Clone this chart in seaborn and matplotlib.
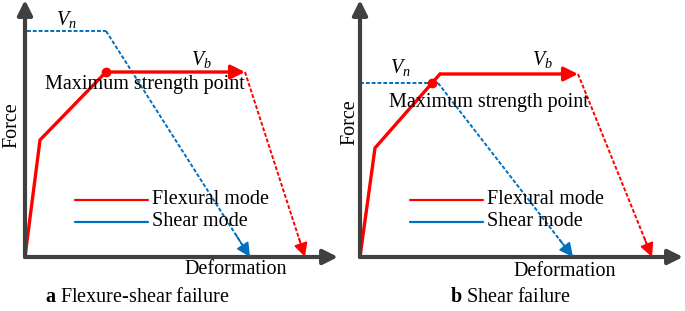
import seaborn as sns
import matplotlib.pyplot as plt

sns.set_style('white')
plt.rcParams['font.family'] = ['Liberation Serif', 'DejaVu Serif']
plt.rcParams['text.color'] = 'black'
plt.rcParams['mathtext.fontset'] = 'custom'
plt.rcParams['mathtext.rm'] = 'Liberation Serif'
plt.rcParams['mathtext.it'] = 'Liberation Serif:italic'
plt.rcParams['mathtext.bf'] = 'Liberation Serif:bold'

RED = '#ff0000'
BLUE = '#0070c0'
AXC = '#404040'
FS = 14.5

# schematic data (deformation, force) per panel
panels = [
    dict(tag='a', caption='Flexure-shear failure',
         flex_x=[0, 15, 81], flex_y=[0, 117, 185],
         peak=(81, 185), plateau_end=(220, 185), flex_end=(280, 0),
         shear_x=[2, 81], shear_y=[226, 226], shear_end=(225, 0),
         dot=(81, 185), xlim=(-25, 315), x_tip=313,
         vn=(41, 237), vb=(176, 197), maxpt=(120, 172),
         deform=(211, -13), force=(-13, 132), cap=(20, -40)),
    dict(tag='b', caption='Shear failure',
         flex_x=[0, 15, 80], flex_y=[0, 109, 183],
         peak=(80, 183), plateau_end=(218, 183), flex_end=(292, 0),
         shear_x=[0, 78], shear_y=[174, 174], shear_end=(213, 0),
         dot=(72, 174), xlim=(-20, 325), x_tip=323,
         vn=(40, 189), vb=(182, 197), maxpt=(129, 154),
         deform=(205, -15), force=(-10, 135), cap=(90, -41)),
]
legend_x = [50, 123]
legend_y = [57, 35]
legend_labels = ['Flexural mode', 'Shear mode']

fig = plt.figure(figsize=(6.85, 3.11), dpi=100)
positions = [[0, 0, 340 / 685, 1], [340 / 685, 0, 345 / 685, 1]]


def arrow(ax, start, end, color, lw, ms, ls='-'):
    ax.annotate('', xy=end, xytext=start,
                arrowprops=dict(arrowstyle='-|>', color=color, lw=lw,
                                mutation_scale=ms, linestyle=ls,
                                shrinkA=0, shrinkB=0))


def head(ax, start, end, color, ms):
    # short solid segment at the end of a dashed line to carry the head
    fx = start[0] + (end[0] - start[0]) * 0.9
    fy = start[1] + (end[1] - start[1]) * 0.9
    arrow(ax, (fx, fy), end, color, 1.2, ms)


for p, pos in zip(panels, positions):
    ax = fig.add_axes(pos)
    ax.set_xlim(*p['xlim'])
    ax.set_ylim(-54, 257)
    ax.axis('off')

    # axes arrows
    arrow(ax, (0, 0), (p['x_tip'], 0), AXC, 3, 22)
    arrow(ax, (0, 0), (0, 257), AXC, 3, 22)

    # flexural mode
    sns.lineplot(x=p['flex_x'], y=p['flex_y'], sort=False, estimator=None,
                 color=RED, lw=2.4, ax=ax)
    arrow(ax, p['peak'], p['plateau_end'], RED, 2.4, 21)
    ax.plot([p['plateau_end'][0], p['flex_end'][0]],
            [p['plateau_end'][1], p['flex_end'][1]],
            color=RED, lw=1.4, dashes=(2, 1))
    head(ax, p['plateau_end'], p['flex_end'], RED, 21)

    # shear mode
    sns.lineplot(x=p['shear_x'], y=p['shear_y'], sort=False, estimator=None,
                 color=BLUE, lw=1.4, ax=ax)
    ax.lines[-1].set_dashes((2, 1))
    ax.plot([p['shear_x'][-1], p['shear_end'][0]],
            [p['shear_y'][-1], p['shear_end'][1]],
            color=BLUE, lw=1.4, dashes=(2, 1))
    head(ax, (p['shear_x'][-1], p['shear_y'][-1]), p['shear_end'], BLUE, 21)

    ax.plot(*p['dot'], 'o', color=RED, ms=6, zorder=5)

    # legend
    for ly, lab, c in zip(legend_y, legend_labels, [RED, BLUE]):
        ax.plot(legend_x, [ly, ly], color=c, lw=1.6)
        ax.text(legend_x[1] + 4, ly, lab, fontsize=FS, va='center', ha='left')

    ax.text(*p['vn'], '$V_n$', fontsize=FS, ha='center', va='center')
    ax.text(*p['vb'], '$V_b$', fontsize=FS, ha='center', va='center')
    ax.text(*p['maxpt'], 'Maximum strength point', fontsize=FS,
            ha='center', va='center')
    ax.text(*p['deform'], 'Deformation', fontsize=FS, ha='center', va='center')
    ax.text(*p['force'], 'Force', fontsize=FS, ha='center', va='center',
            rotation=90)
    ax.text(*p['cap'], r'$\mathbf{' + p['tag'] + '}$ ' + p['caption'],
            fontsize=FS, ha='left', va='center')

fig.savefig('out.png', dpi=100)
